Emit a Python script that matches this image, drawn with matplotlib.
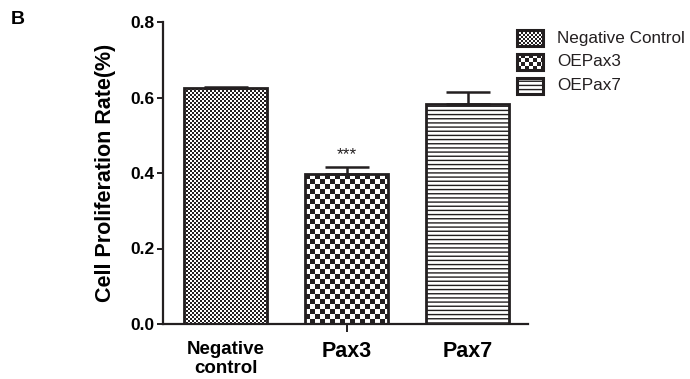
import numpy as np
import matplotlib
matplotlib.use("Agg")
import matplotlib.pyplot as plt
from matplotlib.colors import ListedColormap
from matplotlib.patches import Rectangle

# ---- data ----
categories = ["Negative\ncontrol", "Pax3", "Pax7"]
series_names = ["Negative Control", "OEPax3", "OEPax7"]
rates = [0.625, 0.397, 0.583]
errors = [0.004, 0.020, 0.032]
significance = ["", "***", ""]
yticks = [0.0, 0.2, 0.4, 0.6, 0.8]
ytick_labels = ["0.0", "0.2", "0.4", "0.6", "0.8"]

plt.rcParams["font.family"] = ["Liberation Sans", "DejaVu Sans"]
plt.rcParams["hatch.linewidth"] = 1.0

DARK = "#231f20"
W, H = 690, 379
fig = plt.figure(figsize=(W / 100, H / 100), dpi=100)
ax = fig.add_axes([163 / W, 55 / H, (528 - 163) / W, 302 / H])

x = np.arange(len(categories))
bar_w = 0.686
xlim = (-0.517, 2.5)
ylim = (0, 0.8)
ax.set_xlim(*xlim)
ax.set_ylim(*ylim)

bars = ax.bar(x, rates, width=bar_w, facecolor="none", edgecolor=DARK,
              linewidth=2.0, zorder=3)
# horizontal-line fill for the third group
bars[2].set_facecolor("white")
bars[2].set_hatch("----")


def checker(nw, nh, cell):
    jj, ii = np.meshgrid(np.arange(nw), np.arange(nh))
    return ((jj // cell + ii // cell) % 2).astype(float)


cmap = ListedColormap(["white", DARK])
# checkerboard fills: fine for control, coarse for Pax3
for bar, cell in ((bars[0], 2), (bars[1], 5)):
    x0, w, h = bar.get_x(), bar.get_width(), bar.get_height()
    p0 = ax.transData.transform((x0, 0))
    p1 = ax.transData.transform((x0 + w, h))
    nw = int(round(p1[0] - p0[0]))
    nh = int(round(p1[1] - p0[1]))
    ax.imshow(checker(nw, nh, cell), cmap=cmap, vmin=0, vmax=1,
              extent=(x0, x0 + w, 0, h), origin="lower", aspect="auto",
              interpolation="nearest", zorder=2)

ax.errorbar(x, rates, yerr=[np.zeros(len(rates)), errors], fmt="none",
            ecolor=DARK, elinewidth=1.8, capsize=15.5, capthick=1.8, zorder=4)

for xi, r, e, s in zip(x, rates, errors, significance):
    if s:
        ax.text(xi, r + e + 0.012, s, ha="center", va="bottom",
                fontsize=12.5, color=DARK)

ax.set_xlim(*xlim)
ax.set_ylim(*ylim)

# axes styling
for side in ("top", "right"):
    ax.spines[side].set_visible(False)
for side in ("left", "bottom"):
    ax.spines[side].set_linewidth(1.6)
    ax.spines[side].set_color(DARK)

ax.set_yticks(yticks)
ax.set_yticklabels(ytick_labels, fontsize=12.5, fontweight="bold")
ax.tick_params(axis="y", direction="out", length=4.5, width=1.4,
               color=DARK, pad=1.5)

ax.set_xticks(x)
ax.set_xticklabels(categories, fontweight="bold")
ax.tick_params(axis="x", direction="out", length=6, width=1.4,
               color=DARK, pad=6)
for i, (tick, lab) in enumerate(zip(ax.xaxis.get_major_ticks(),
                                    ax.get_xticklabels())):
    if i != 1:
        tick.tick1line.set_visible(False)
    lab.set_fontsize(13.5 if i == 0 else 15.5)
    lab.set_linespacing(1.2)

ax.set_ylabel("Cell Proliferation Rate(%)", fontsize=15.5, fontweight="bold",
              labelpad=10.5)

# panel letter
fig.text(11 / W, 1 - 19 / H, "B", fontsize=14, fontweight="bold",
         va="center", ha="left")

# legend drawn in figure pixel space
lax = fig.add_axes([0, 0, 1, 1], zorder=10)
lax.set_xlim(0, W)
lax.set_ylim(H, 0)
lax.axis("off")
lax.patch.set_alpha(0)

row_y = [38, 62, 86]
kx0, kw, kh = 517, 26, 16
for i, (name, yc) in enumerate(zip(series_names, row_y)):
    y0 = yc - kh / 2
    if i < 2:
        cell = 2 if i == 0 else 4
        arr = checker(kw, kh, cell)
        lax.imshow(arr, cmap=cmap, vmin=0, vmax=1,
                   extent=(kx0, kx0 + kw, y0 + kh, y0), aspect="auto",
                   interpolation="nearest", zorder=1)
        lax.add_patch(Rectangle((kx0, y0), kw, kh, facecolor="none",
                                edgecolor=DARK, linewidth=2.2, zorder=2))
    else:
        lax.add_patch(Rectangle((kx0, y0), kw, kh, facecolor="white",
                                edgecolor=DARK, linewidth=2.2, hatch="----",
                                zorder=2))
    lax.text(557, yc, name, fontsize=12.3, va="center", ha="left", color=DARK)
lax.set_xlim(0, W)
lax.set_ylim(H, 0)

fig.savefig("out.png", dpi=100)
